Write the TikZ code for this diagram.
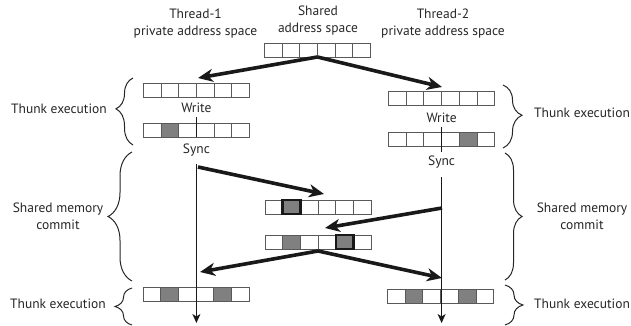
\documentclass[tikz,border=0pt]{standalone}
\usepackage{fontspec}
\setmainfont{PT Sans}
\usetikzlibrary{arrows.meta,decorations.pathreplacing}
\colorlet{W}{white}
\colorlet{S}{black!50}
\newcommand\cellrow[4]{%
  \foreach \f [count=\i] in {#4} {
    \node[cell, fill=\f] (#1-\i) at ({#2+(\i-1)*17.7},#3) {};
  }%
}
\newcommand\thickcell[1]{\draw[thickc] (#1.north west) rectangle (#1.south east);}
\begin{document}
\begin{tikzpicture}[x=1pt,y=-1pt,
  cell/.style={draw=black!65, line width=0.9pt, minimum width=17.7pt, minimum height=14pt, inner sep=0pt, outer sep=0pt, anchor=north west},
  thickc/.style={draw=black!90, line width=2.6pt},
  big/.style={line width=3.6pt, black!90, -{Stealth[length=15pt,width=13pt,inset=4.5pt]}},
  tline/.style={line width=0.9pt, black!90},
  lbl/.style={font=\fontsize{13.5}{17}\selectfont, text=black!85, align=center, inner sep=0pt},
  brc/.style={decorate, decoration={brace, amplitude=#1, aspect=0.5}, line width=1pt, black!85},
  brc/.default=17,
]
\useasboundingbox (0,0) rectangle (631,326);

% headers
\node[lbl] (h1) at (195.5,24) {Thread-1\\private address space};
\node[lbl] (h0) at (318,21) {Shared\\address space};
\node[lbl] (h2) at (443,24) {Thread-2\\private address space};

% arrays
\cellrow{top}{264.3}{43}{W,W,W,W,W,W}
\cellrow{ta}{143.3}{83.3}{W,W,W,W,W,W}
\cellrow{tb}{143.3}{123}{W,S,W,W,W,W}
\cellrow{ua}{388.5}{91}{W,W,W,W,W,W}
\cellrow{ub}{388.5}{132.5}{W,W,W,W,S,W}
\cellrow{ma}{265}{200}{W,S,W,W,W,W}
\cellrow{mb}{265}{235}{W,S,W,W,S,W}
\cellrow{ba}{143}{287}{W,S,W,W,S,W}
\cellrow{bb}{387.5}{289.5}{W,S,W,W,S,W}
\thickcell{ma-2}
\thickcell{mb-5}

% thread labels
\node[lbl] (w1) at (196.4,108) {Write};
\node[lbl] (s1) at (196.4,150) {Sync};
\node[lbl] (w2) at (441.6,118) {Write};
\node[lbl] (s2) at (441.6,162) {Sync};

% timelines
\coordinate (t1a) at (196.4,117); \coordinate (t1b) at (196.4,137);
\coordinate (t1c) at (196.4,164); \coordinate (t1d) at (196.4,323);
\coordinate (t2a) at (441.6,127); \coordinate (t2b) at (441.6,152);
\coordinate (t2c) at (441.6,177); \coordinate (t2d) at (441.6,323);
\draw[tline] (t1a) -- (t1b);
\draw[tline, -{Stealth[length=9pt,width=8pt,inset=2.5pt]}] (t1c) -- (t1d);
\draw[tline] (t2a) -- (t2b);
\draw[tline, -{Stealth[length=9pt,width=8pt,inset=2.5pt]}] (t2c) -- (t2d);

% big arrows
\coordinate (e1) at (198,78);
\coordinate (e2) at (442,87);
\coordinate (b3) at (198,167); \coordinate (e3) at (324,194);
\coordinate (b4) at (442,208); \coordinate (e4) at (325,228);
\coordinate (b5) at (318,251);
\coordinate (e5) at (200,272);
\coordinate (e6) at (442,278);
\draw[big] (top-3.south east) -- (e1);
\draw[big] (top-3.south east) -- (e2);
\draw[big] (b3) -- (e3);
\draw[big] (b4) -- (e4);
\draw[big] (b5) -- (e5);
\draw[big] (b5) -- (e6);

% braces left
\coordinate (l1a) at (133,145); \coordinate (l1b) at (133,78);
\coordinate (l2a) at (132,281); \coordinate (l2b) at (132,152);
\coordinate (l3a) at (132,325); \coordinate (l3b) at (132,288);
\draw[brc=17, decoration={aspect=0.54}] (l1a) -- (l1b);
\draw[brc=24] (l2a) -- (l2b);
\draw[brc=17] (l3a) -- (l3b);
% braces right
\coordinate (r1a) at (503,85); \coordinate (r1b) at (503,148);
\coordinate (r2a) at (505,153); \coordinate (r2b) at (505,280);
\coordinate (r3a) at (505,285); \coordinate (r3b) at (505,325);
\draw[brc=19, decoration={aspect=0.48}] (r1a) -- (r1b);
\draw[brc=17] (r2a) -- (r2b);
\draw[brc=18] (r3a) -- (r3b);

% side labels
\node[lbl, anchor=east] (lt1) at (107,109) {Thunk execution};
\node[lbl] (ls) at (58,216) {Shared memory\\commit};
\node[lbl, anchor=east] (lt3) at (106,304) {Thunk execution};
\node[lbl, anchor=west] (rt1) at (534,113) {Thunk execution};
\node[lbl] (rs) at (582,216) {Shared memory\\commit};
\node[lbl, anchor=west] (rt3) at (534,304) {Thunk execution};
\end{tikzpicture}
\end{document}
